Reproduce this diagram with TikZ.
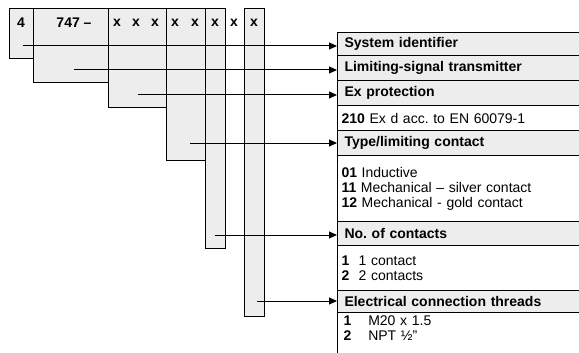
\documentclass[tikz,border=0pt]{standalone}
\usepackage{fontspec}
\setmainfont{Liberation Sans}
\usetikzlibrary{arrows.meta}
\frenchspacing

\begin{document}
\begin{tikzpicture}[x=1pt, y=-1pt, >={Triangle[length=8pt, width=7pt]}, line width=1pt,
    colbox/.style={draw, fill=black!7},
    code/.style={font=\bfseries\fontsize{14}{15}\selectfont, inner sep=0pt},
    head/.style={draw, fill=black!7, anchor=north west, text width=236pt, inner xsep=7pt,
      inner ysep=0pt, align=left, font=\bfseries\fontsize{14}{15}\selectfont},
    opts/.style={draw, fill=white, anchor=north west, text width=242pt, inner xsep=4pt,
      inner ysep=0pt, align=left, font=\fontsize{14}{15}\selectfont}]
  \useasboundingbox (0,0) rectangle (579,353);
  \clip (0,0) rectangle (579,353);

  % code columns
  \draw[colbox] (9,9) rectangle (33,59);
  \draw[colbox] (33,9) rectangle (108,83);
  \draw[colbox] (108,9) rectangle (166,108);
  \draw[colbox] (166,9) rectangle (205,160);
  \draw[colbox] (205,9) rectangle (225,248);
  \draw[colbox] (244,9) rectangle (264,316);

  \node[code] (d4) at (21,23) {4};
  \node[code] (d747) at (74,23) {747 --};
  \foreach \p/\n in {117/x1, 136/x2, 155/x3, 175/x4, 195/x5, 215/x6, 234/x7, 254/x8}
    \node[code] (\n) at (\p,23) {x};

  % meaning of each group
  \node[head, minimum height=23pt] (sysid) at (337,32) {System identifier};
  \node[head, minimum height=25pt] (lst) at (337,55) {Limiting-signal transmitter};
  \node[head, minimum height=25pt] (exprot) at (337,80) {Ex protection};
  \node[opts, minimum height=25pt] (exopt) at (337,105) {\textbf{210} Ex d acc. to EN 60079-1};
  \node[head, minimum height=25pt] (type) at (337,130) {Type/limiting contact};
  \node[opts, minimum height=66pt] (typeopt) at (337,155)
    {\textbf{01} Inductive\\ \textbf{11} Mechanical -- silver contact\\ \textbf{12} Mechanical - gold contact};
  \node[head, minimum height=24pt] (ncont) at (337,221) {No. of contacts};
  \node[opts, minimum height=45pt] (ncontopt) at (337,245)
    {\textbf{1}\ \ 1 contact\\ \textbf{2}\ \ 2 contacts};
  \node[head, minimum height=22pt] (thread) at (337,290) {Electrical connection threads};
  \node[opts, draw=none, fill=none, minimum height=32pt] (threadopt) at (339,312)
    {\textbf{1}\hspace{17pt}M20 x 1.5\\ \textbf{2}\hspace{17pt}NPT ½"};
  \draw (thread.south west) -- ++(0,50);

  % arrows
  \coordinate (s1) at (23,46);
  \coordinate (s2) at (74,70);
  \coordinate (s3) at (138,95);
  \coordinate (s4) at (190,143);
  \coordinate (s5) at (215,235);
  \coordinate (s6) at (257,301);
  \draw[->] (s1) -- (s1 -| sysid.west);
  \draw[->] (s2) -- (s2 -| lst.west);
  \draw[->] (s3) -- (s3 -| exprot.west);
  \draw[->] (s4) -- (s4 -| type.west);
  \draw[->] (s5) -- (s5 -| ncont.west);
  \draw[->] (s6) -- (s6 -| thread.west);
\end{tikzpicture}
\end{document}
